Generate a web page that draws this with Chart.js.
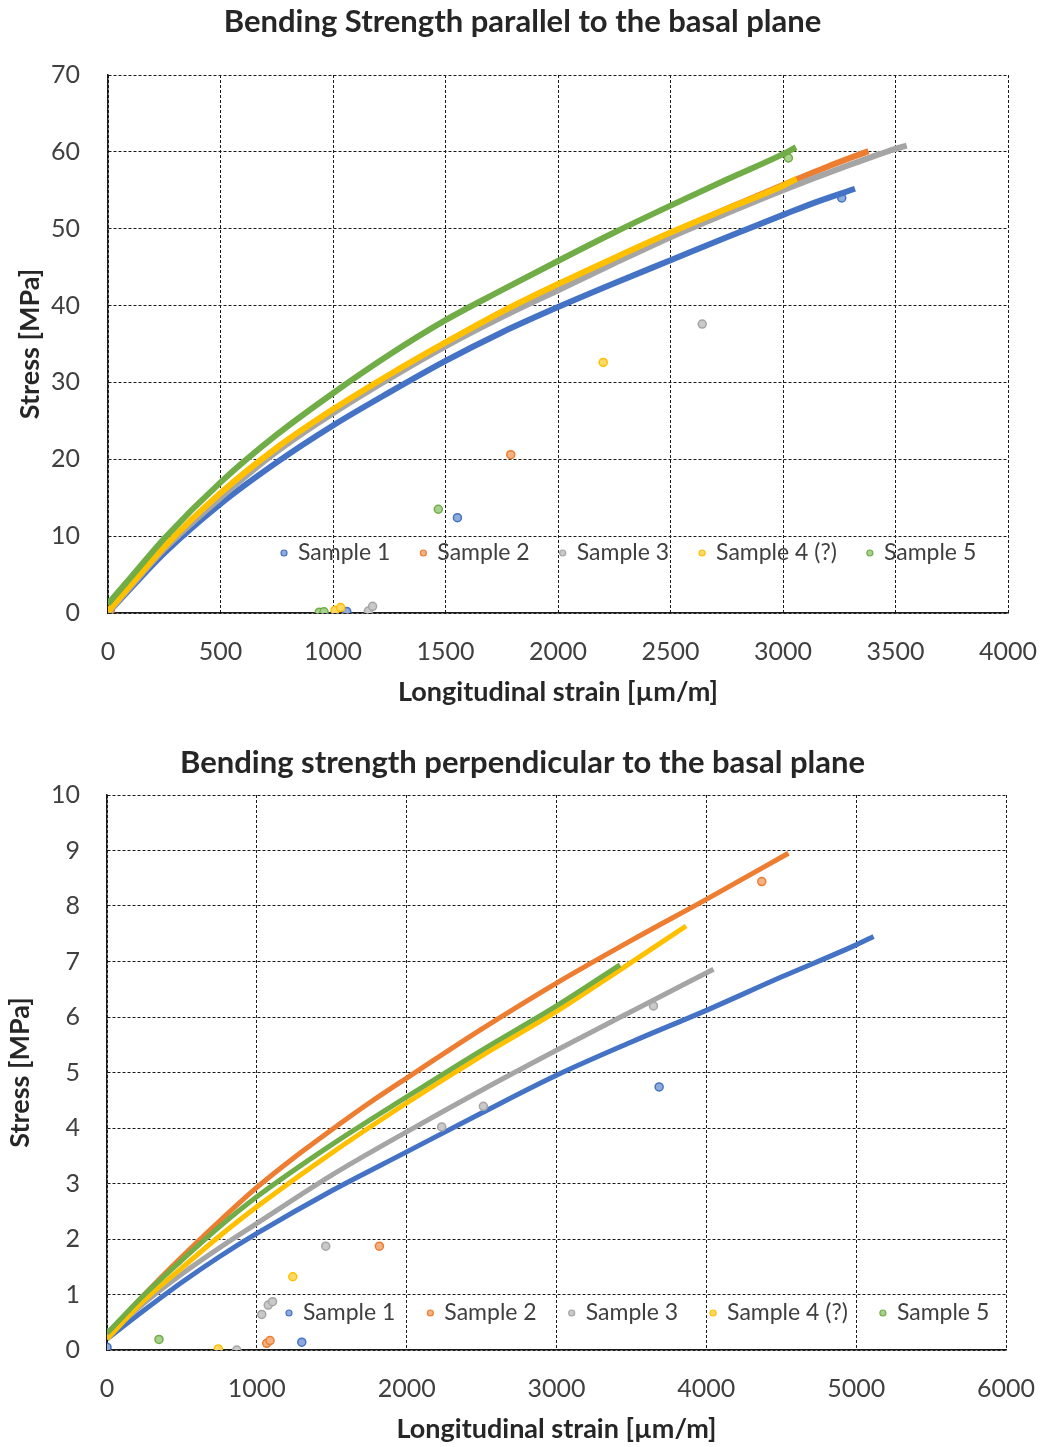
<!DOCTYPE html>
<html>
<head>
<meta charset="utf-8">
<script src="https://cdn.jsdelivr.net/npm/chart.js@4.4.0/dist/chart.umd.min.js"></script>
<style>
    body { margin: 0; background: #ffffff; }
    .box { position: absolute; left: 0; width: 1045px; }
</style>
</head>
<body>
<div class="box" style="top:0;height:720px"><canvas id="parChart"></canvas></div>
<div class="box" style="top:730px;height:717px"><canvas id="perpChart"></canvas></div>
<script>
// Series names and colours (Excel palette)
const sampleNames = ['Sample 1', 'Sample 2', 'Sample 3', 'Sample 4 (?)', 'Sample 5'];
const lineColors = ['#4472C4', '#ED7D31', '#A5A5A5', '#FFC000', '#70AD47'];
const fillColors = ['#8FAADC', '#F4B183', '#C9C9C9', '#FFD966', '#A9D18E'];

// Parallel to the basal plane: [strain, stress]
const parS1 = [[0, 0], [100, 3.2], [250, 7.8], [500, 14.2], [750, 19.6], [1000, 24.4], [1250, 28.7], [1500, 32.8], [1750, 36.5], [2000, 39.8], [2250, 42.9], [2500, 45.9], [2750, 48.9], [3000, 51.8], [3150, 53.5], [3320, 55.2]];
const parS2 = [[0, 0.3], [100, 3.5], [250, 8.4], [500, 15.2], [750, 21.2], [1000, 26.2], [1250, 30.8], [1500, 35.0], [1750, 38.9], [2000, 42.6], [2250, 46.1], [2500, 49.4], [2750, 52.6], [3000, 55.7], [3200, 58.1], [3380, 60.1]];
const parS3 = [[0, 0], [100, 3.4], [250, 8.3], [500, 15.0], [750, 21.0], [1000, 26.0], [1250, 30.5], [1500, 34.7], [1750, 38.5], [2000, 42.0], [2250, 45.5], [2500, 48.9], [2750, 52.0], [3000, 55.0], [3250, 57.8], [3500, 60.4], [3550, 60.8]];
const parS4 = [[0, 0.2], [100, 3.6], [250, 8.6], [500, 15.6], [750, 21.5], [1000, 26.5], [1250, 31.0], [1500, 35.2], [1750, 39.2], [2000, 42.8], [2250, 46.2], [2500, 49.5], [2750, 52.6], [3000, 55.6], [3060, 56.5]];
const parS5 = [[0, 1.2], [100, 4.6], [250, 9.7], [500, 17.0], [750, 23.2], [1000, 28.6], [1250, 33.6], [1500, 38.1], [1750, 42.0], [2000, 45.8], [2250, 49.5], [2500, 53.0], [2750, 56.4], [3000, 59.7], [3058, 60.6]];

// Stray points of the parallel test
const parOut1 = [[1553, 12.4], [1061, 0.2], [3261, 54.0]];
const parOut2 = [[1790, 20.6], [10, 0.3]];
const parOut3 = [[2641, 37.6], [1157, 0.26], [1176, 0.87]];
const parOut4 = [[2201, 32.6], [1009, 0.35], [1034, 0.7]];
const parOut5 = [[1468, 13.5], [939, 0.1], [960, 0.15], [3024, 59.2]];

// Perpendicular to the basal plane
const perpS1 = [[0, 0.2], [250, 0.72], [500, 1.22], [750, 1.68], [1000, 2.1], [1500, 2.87], [2000, 3.57], [2500, 4.27], [3000, 4.95], [3500, 5.55], [4000, 6.12], [4500, 6.72], [5000, 7.3], [5116, 7.45]];
const perpS2 = [[0, 0.25], [250, 1.0], [500, 1.68], [750, 2.32], [1000, 2.93], [1250, 3.47], [1500, 3.97], [1750, 4.45], [2000, 4.9], [2500, 5.78], [3000, 6.61], [3500, 7.38], [4000, 8.12], [4548, 8.95]];
const perpS3 = [[0, 0.25], [250, 0.85], [500, 1.37], [750, 1.84], [1000, 2.28], [1500, 3.15], [2000, 3.93], [2500, 4.68], [3000, 5.4], [3500, 6.1], [4048, 6.86]];
const perpS4 = [[0, 0.2], [250, 0.9], [500, 1.48], [750, 2.05], [1000, 2.58], [1500, 3.55], [2000, 4.45], [2500, 5.3], [3000, 6.1], [3424, 6.85], [3865, 7.64]];
const perpS5 = [[0, 0.3], [250, 1.0], [500, 1.62], [750, 2.22], [1000, 2.76], [1500, 3.7], [2000, 4.56], [2500, 5.4], [3000, 6.2], [3424, 6.94]];

const perpOut1 = [[3685, 4.74], [1300, 0.14], [0, 0.05]];
const perpOut2 = [[4370, 8.44], [1818, 1.87], [1066, 0.12], [1088, 0.17]];
const perpOut3 = [[3647, 6.2], [2512, 4.39], [2234, 4.02], [1460, 1.87], [1033, 0.64], [1076, 0.81], [1105, 0.87], [866, 0]];
const perpOut4 = [[1240, 1.32], [743, 0.02]];
const perpOut5 = [[347, 0.19]];

const fontFamily = 'Lato, "Open Sans", sans-serif';

function toPoints(pairs) {
    return pairs.map(p => ({ x: p[0], y: p[1] }));
}

function buildDatasets(curves, strays, lineWidth) {
    const sets = [];
    sampleNames.forEach((name, i) => {
        sets.push({
            label: name,
            data: toPoints(curves[i]),
            showLine: true,
            borderColor: lineColors[i],
            backgroundColor: fillColors[i],
            borderWidth: lineWidth,
            pointRadius: 0,
            cubicInterpolationMode: 'monotone',
            order: 10 - i
        });
        sets.push({
            label: name + ' stray',
            data: toPoints(strays[i]),
            showLine: false,
            pointRadius: 4,
            pointBorderWidth: 1.5,
            pointBorderColor: lineColors[i],
            pointBackgroundColor: fillColors[i],
            order: 10 - i
        });
    });
    return sets;
}

// Legend drawn inside the plot area, like the Excel original
const insideLegend = {
    id: 'insideLegend',
    afterDraw(chart, args, opts) {
        const ctx = chart.ctx;
        const area = chart.chartArea;
        let x = area.left + opts.offsetX;
        const y = area.bottom - opts.offsetY;
        ctx.save();
        ctx.font = '23px ' + fontFamily;
        ctx.textBaseline = 'middle';
        ctx.textAlign = 'left';
        sampleNames.forEach((name, i) => {
            ctx.beginPath();
            ctx.arc(x, y, 3, 0, Math.PI * 2);
            ctx.fillStyle = fillColors[i];
            ctx.fill();
            ctx.lineWidth = 1.2;
            ctx.strokeStyle = lineColors[i];
            ctx.stroke();
            ctx.fillStyle = '#404040';
            ctx.fillText(name, x + 14, y);
            x += 14 + ctx.measureText(name).width + opts.gap;
        });
        ctx.restore();
    }
};

function makeOptions(cfg) {
    return {
        responsive: true,
        maintainAspectRatio: false,
        animation: false,
        layout: { padding: 0 },
        plugins: {
            legend: { display: false },
            tooltip: { enabled: false },
            title: {
                display: true,
                text: cfg.title,
                color: '#262626',
                font: { family: fontFamily, size: 31, weight: 'bold' },
                padding: { top: cfg.titleTop, bottom: cfg.titleBottom }
            },
            insideLegend: { offsetX: cfg.legendX, offsetY: cfg.legendY, gap: cfg.legendGap }
        },
        scales: {
            x: {
                type: 'linear',
                min: 0,
                max: cfg.xMax,
                ticks: {
                    stepSize: cfg.xStep,
                    color: '#404040',
                    padding: 24,
                    maxRotation: 0,
                    font: { family: fontFamily, size: 25 },
                    callback: v => String(v)
                },
                grid: { color: '#1a1a1a', lineWidth: 1, drawTicks: false },
                border: { display: true, color: '#1a1a1a', width: 1.5, dash: [3, 2] },
                title: {
                    display: true,
                    text: 'Longitudinal strain [µm/m]',
                    color: '#262626',
                    font: { family: fontFamily, size: 27, weight: 'bold' },
                    padding: { top: 0, bottom: cfg.xTitlePad }
                },
                afterFit(scale) {
                    scale.height = cfg.xHeight;
                    scale.paddingLeft = 0;
                    scale.paddingRight = cfg.padRight;
                }
            },
            y: {
                type: 'linear',
                min: 0,
                max: cfg.yMax,
                ticks: {
                    stepSize: cfg.yStep,
                    color: '#404040',
                    padding: cfg.yTickPad,
                    font: { family: fontFamily, size: 25 }
                },
                grid: { color: '#1a1a1a', lineWidth: 1, drawTicks: false },
                border: { display: true, color: '#1a1a1a', width: 1.5, dash: [3, 2] },
                title: {
                    display: true,
                    text: 'Stress [MPa]',
                    color: '#262626',
                    font: { family: fontFamily, size: 27, weight: 'bold' },
                    padding: { top: cfg.yTitlePad, bottom: cfg.yTitlePad }
                },
                afterFit(scale) {
                    scale.width = cfg.yWidth;
                    scale.paddingTop = 0;
                    scale.paddingBottom = 0;
                }
            }
        }
    };
}

new Chart(document.getElementById('parChart').getContext('2d'), {
    type: 'scatter',
    data: {
        datasets: buildDatasets([parS1, parS2, parS3, parS4, parS5],
            [parOut1, parOut2, parOut3, parOut4, parOut5], 6)
    },
    options: makeOptions({
        title: 'Bending Strength parallel to the basal plane',
        titleTop: 3, titleBottom: 34.8,
        padRight: 37, xMax: 4000, xStep: 500, yMax: 70, yStep: 10,
        xHeight: 107, yWidth: 108, xTitlePad: 12, yTitlePad: 14, yTickPad: 28,
        legendX: 176, legendY: 60, legendGap: 33
    }),
    plugins: [insideLegend]
});

new Chart(document.getElementById('perpChart').getContext('2d'), {
    type: 'scatter',
    data: {
        datasets: buildDatasets([perpS1, perpS2, perpS3, perpS4, perpS5],
            [perpOut1, perpOut2, perpOut3, perpOut4, perpOut5], 5)
    },
    options: makeOptions({
        title: 'Bending strength perpendicular to the basal plane',
        titleTop: 14.4, titleBottom: 13.4,
        padRight: 39, xMax: 6000, xStep: 1000, yMax: 10, yStep: 1,
        xHeight: 97, yWidth: 107, xTitlePad: 2, yTitlePad: 4, yTickPad: 27,
        legendX: 182, legendY: 37, legendGap: 35
    }),
    plugins: [insideLegend]
});
</script>
</body>
</html>
